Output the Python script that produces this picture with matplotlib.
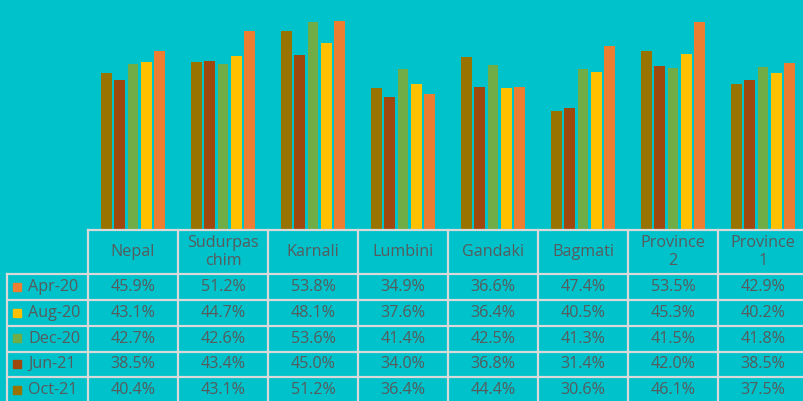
import matplotlib
matplotlib.use("Agg")
import matplotlib.pyplot as plt
import numpy as np

regions = ["Nepal", "Sudurpas\nchim", "Karnali", "Lumbini", "Gandaki", "Bagmati", "Province\n2", "Province\n1"]
series_names = ["Apr-20", "Aug-20", "Dec-20", "Jun-21", "Oct-21"]
apr20 = [45.9, 51.2, 53.8, 34.9, 36.6, 47.4, 53.5, 42.9]
aug20 = [43.1, 44.7, 48.1, 37.6, 36.4, 40.5, 45.3, 40.2]
dec20 = [42.7, 42.6, 53.6, 41.4, 42.5, 41.3, 41.5, 41.8]
jun21 = [38.5, 43.4, 45.0, 34.0, 36.8, 31.4, 42.0, 38.5]
oct21 = [40.4, 43.1, 51.2, 36.4, 44.4, 30.6, 46.1, 37.5]
colors = {"Apr-20": "#ED7D31", "Aug-20": "#FFC000", "Dec-20": "#70AD47",
          "Jun-21": "#9E480E", "Oct-21": "#997300"}
values = {"Apr-20": apr20, "Aug-20": aug20, "Dec-20": dec20, "Jun-21": jun21, "Oct-21": oct21}

BG = "#00C2CA"
W, H = 804, 401
fig = plt.figure(figsize=(W / 100, H / 100), dpi=100, facecolor=BG)

# bar axes: x from 88px to 808px, y from 0 to 229px (top)
ax = fig.add_axes([88 / W, 1 - 229.3 / H, 720 / W, 229.3 / H])
ax.set_facecolor(BG)
n = len(regions)
x = np.arange(n)
draw_order = ["Oct-21", "Jun-21", "Dec-20", "Aug-20", "Apr-20"]
step = 0.148
bw = 0.118
for i, s in enumerate(draw_order):
    ax.bar(x + (i - 2) * step, values[s], width=bw, color=colors[s], zorder=2)
ax.set_xlim(-0.5, n - 0.5)
ax.set_ylim(0, 59.15)
ax.axis("off")

# overlay for table in pixel coords
ov = fig.add_axes([0, 0, 1, 1], facecolor="none")
ov.set_xlim(0, W)
ov.set_ylim(H, 0)
ov.axis("off")

lc = "#D9D9D9"
lw = 1.6
tc = "#565B5D"
font = "Open Sans"
fs = 11.6
col_edges = [88 + 90 * i for i in range(n + 1)]
header_top, header_bot = 229.5, 274
row_edges = [274, 300, 326, 351.5, 377, 403]

ov.plot([88, W + 5], [header_top, header_top], color=lc, lw=lw)
for xe in col_edges:
    ov.plot([xe, xe], [header_top, row_edges[-1]], color=lc, lw=lw)
ov.plot([7, 7], [header_bot, row_edges[-1]], color=lc, lw=lw)
for ye in row_edges:
    ov.plot([7, W + 5], [ye, ye], color=lc, lw=lw)

for j, r in enumerate(regions):
    cx = col_edges[j] + 45
    ov.text(cx, (header_top + header_bot) / 2 + 0.5, r, ha="center", va="center",
            color=tc, fontsize=fs, family=font, linespacing=1.2)

for i, s in enumerate(series_names):
    cy = (row_edges[i] + row_edges[i + 1]) / 2
    ov.add_patch(plt.Rectangle((13, cy - 4.3), 8, 8, color=colors[s]))
    ov.text(28, cy, s, ha="left", va="center", color=tc, fontsize=fs, family=font)
    for j in range(n):
        ov.text(col_edges[j] + 45, cy, f"{values[s][j]:.1f}%", ha="center", va="center",
                color=tc, fontsize=fs, family=font)

fig.savefig("out.png", dpi=100, facecolor=BG)
